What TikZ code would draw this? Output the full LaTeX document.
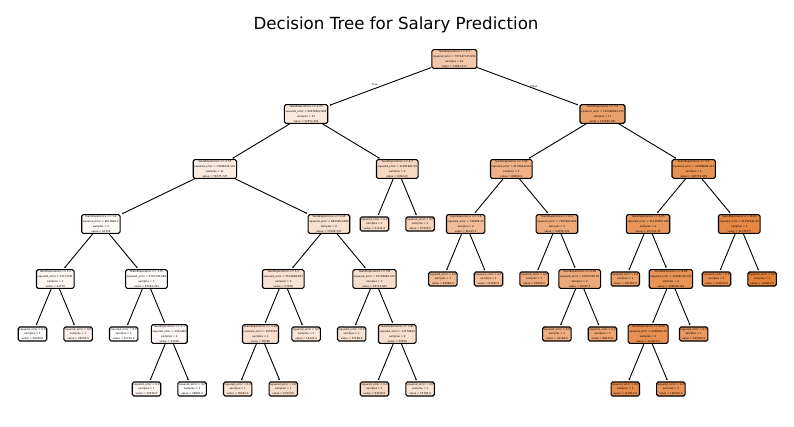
\documentclass[tikz,border=0pt]{standalone}
\usepackage{fontspec}
\setmainfont{DejaVu Sans}
\usetikzlibrary{arrows.meta}
\definecolor{treeor}{RGB}{229,129,57}
\ExplSyntaxOn
\fp_new:N \l_ms_fp
\fp_new:N \l_mq_fp
\int_new:N \l_mn_int
\NewDocumentCommand\nodecalc{m}{
  \fp_zero:N \l_ms_fp
  \fp_zero:N \l_mq_fp
  \int_zero:N \l_mn_int
  \clist_map_inline:nn {#1}{
    \fp_add:Nn \l_ms_fp {##1}
    \fp_add:Nn \l_mq_fp {(##1)*(##1)}
    \int_incr:N \l_mn_int
  }
  \tl_gset:Nx \SNn {\int_use:N \l_mn_int}
  \tl_gset:Nx \SMean {\fp_eval:n {round(\l_ms_fp/\int_use:N \l_mn_int,3)}}
  \tl_gset:Nx \SMse {\fp_eval:n {round(\l_mq_fp/\int_use:N \l_mn_int-(\l_ms_fp/\int_use:N \l_mn_int)^2,3)}}
  \tl_gset:Nx \SPct {\fp_eval:n {round(100*(\l_ms_fp/\int_use:N \l_mn_int-37731)/84141,1)}}
}
\ExplSyntaxOff
\tikzset{
  tbox/.style={draw=black, line width=1.1pt, rounded corners=1.6pt, align=center,
    font=\fontsize{2.6}{4.7}\selectfont, inner xsep=1.2pt, inner ysep=1.3pt},
  conn/.style={line width=0.9pt, -{Stealth[length=1.6pt,width=1.8pt]}, shorten >=1.3pt},
  lbl/.style={font=\fontsize{2.6}{3}\selectfont, inner sep=0pt},
  ttl/.style={font=\fontsize{16.67}{20}\selectfont, anchor=base, inner sep=0pt},
}
\newcommand\innode[5]{\nodecalc{#5}\node[tbox, fill=treeor!\SPct!white] (#1) at (#2,#3) {YearsExperience <= #4\\squared\_error = \SMse\\samples = \SNn\\value = \SMean};}
\newcommand\lfnode[4]{\nodecalc{#4}\node[tbox, fill=treeor!\SPct!white] (#1) at (#2,#3) {squared\_error = 0.0\\samples = 1\\value = #4.0};}
\begin{document}
\begin{tikzpicture}[x=1pt,y=1pt]
\useasboundingbox (0,0) rectangle (794,-427);
\node[ttl] (title) at (396,-30) {Decision Tree for Salary Prediction};
% level 0
\innode{root}{454.3}{-59}{5.1}{39343,46205,37731,43525,39891,56642,60150,54445,57189,63218,55794,61111,67938,83088,81363,93940,91738,98273,101302,113812,109431,105582,112635,121872}
% level 1
\innode{a}{306.1}{-114}{4.25}{39343,46205,37731,43525,39891,56642,60150,54445,57189,63218,55794,61111,67938}
\innode{b}{602.5}{-114}{7.5}{83088,81363,93940,91738,98273,101302,113812,109431,105582,112635,121872}
% level 2
\innode{aa}{214.9}{-169}{2.55}{39343,46205,37731,43525,39891,56642,60150,54445,57189,63218,55794}
\innode{ab}{397.3}{-169}{4.7}{61111,67938}
\innode{ba}{511.3}{-169}{5.95}{83088,81363,93940,91738,98273}
\innode{bb}{693.7}{-169}{9.3}{101302,113812,109431,105582,112635,121872}
% level 3
\innode{aaa}{100.9}{-224}{1.4}{39343,46205,37731,43525,39891}
\innode{aab}{328.9}{-224}{3.45}{56642,60150,54445,57189,63218,55794}
\lfnode{aba}{374.5}{-224}{61111}
\lfnode{abb}{420.1}{-224}{67938}
\innode{baa}{465.7}{-224}{5.6}{83088,81363}
\innode{bab}{556.9}{-224}{6.4}{93940,91738,98273}
\innode{bba}{648.1}{-224}{8.05}{101302,113812,109431,105582}
\innode{bbb}{739.3}{-224}{10.05}{112635,121872}
% level 4
\innode{aaaa}{55.3}{-279}{1.2}{39343,46205}
\innode{aaab}{146.5}{-279}{1.75}{37731,43525,39891}
\innode{aaba}{283.3}{-279}{3.1}{56642,60150,54445}
\innode{aabb}{374.5}{-279}{3.8}{57189,63218,55794}
\lfnode{baaa}{442.9}{-279}{83088}
\lfnode{baab}{488.5}{-279}{81363}
\lfnode{baba}{534.1}{-279}{93940}
\innode{babb}{579.7}{-279}{6.95}{91738,98273}
\lfnode{bbaa}{625.3}{-279}{101302}
\innode{bbab}{670.9}{-279}{8.85}{113812,109431,105582}
\lfnode{bbba}{716.5}{-279}{112635}
\lfnode{bbbb}{762.1}{-279}{121872}
% level 5
\lfnode{aaaaa}{32.5}{-334}{39343}
\lfnode{aaaab}{78.1}{-334}{46205}
\lfnode{aaaba}{123.7}{-334}{37731}
\innode{aaabb}{169.3}{-334}{2.1}{43525,39891}
\innode{aabaa}{260.5}{-334}{2.95}{56642,60150}
\lfnode{aabab}{306.1}{-334}{54445}
\lfnode{aabba}{351.7}{-334}{57189}
\innode{aabbb}{397.3}{-334}{3.95}{63218,55794}
\lfnode{babba}{556.9}{-334}{91738}
\lfnode{babbb}{602.5}{-334}{98273}
\innode{bbaba}{648.1}{-334}{8.45}{113812,109431}
\lfnode{bbabb}{693.7}{-334}{105582}
% level 6
\lfnode{aaabba}{146.5}{-389}{43525}
\lfnode{aaabbb}{192.1}{-389}{39891}
\lfnode{aabaaa}{237.7}{-389}{56642}
\lfnode{aabaab}{283.3}{-389}{60150}
\lfnode{aabbba}{374.5}{-389}{63218}
\lfnode{aabbbb}{420.1}{-389}{55794}
\lfnode{bbabaa}{625.3}{-389}{113812}
\lfnode{bbabab}{670.9}{-389}{109431}
% connectors
\foreach \p/\c in {root/a, root/b, a/aa, a/ab, b/ba, b/bb,
  aa/aaa, aa/aab, ab/aba, ab/abb, ba/baa, ba/bab, bb/bba, bb/bbb,
  aaa/aaaa, aaa/aaab, aab/aaba, aab/aabb, baa/baaa, baa/baab, bab/baba, bab/babb,
  bba/bbaa, bba/bbab, bbb/bbba, bbb/bbbb,
  aaaa/aaaaa, aaaa/aaaab, aaab/aaaba, aaab/aaabb, aaba/aabaa, aaba/aabab,
  aabb/aabba, aabb/aabbb, babb/babba, babb/babbb, bbab/bbaba, bbab/bbabb,
  aaabb/aaabba, aaabb/aaabbb, aabaa/aabaaa, aabaa/aabaab, aabbb/aabbba, aabbb/aabbbb,
  bbaba/bbabaa, bbaba/bbabab}
  \draw[conn] (\p) -- (\c);
\node[lbl] (tlab) at (375,-85) {True};
\node[lbl] (flab) at (534,-86.5) {False};
\end{tikzpicture}
\end{document}
